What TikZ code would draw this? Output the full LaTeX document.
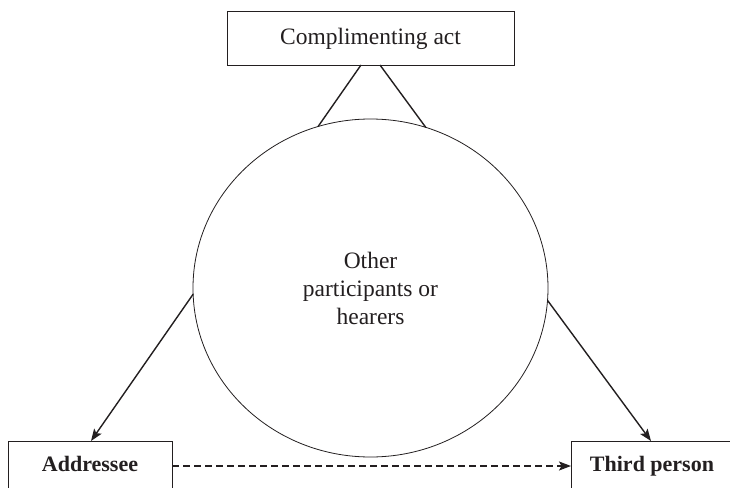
\documentclass[tikz,border=0pt]{standalone}
\usepackage{fontspec}
\setmainfont{Liberation Serif}
\usetikzlibrary{shapes.geometric,arrows.meta}
\definecolor{ink}{HTML}{231F20}
\tikzset{
  boxnode/.style={draw=ink, line width=1pt, inner sep=0pt, outer sep=0pt, text=ink},
  regtext/.style={font=\fontsize{23.5}{28}\selectfont},
  boldtext/.style={font=\fontsize{22}{26}\selectfont\bfseries},
  conn/.style={draw=ink, line width=1.4pt},
  tip/.style={-{Stealth[length=12pt,width=9pt,inset=2.5pt]}},
  dashconn/.style={draw=ink, line width=1.3pt, dash pattern=on 7pt off 4pt},
}
\begin{document}
\begin{tikzpicture}[x=1pt,y=-1pt]
\useasboundingbox (0,0) rectangle (730,487);
\clip (0,0) rectangle (730,487);
\fill[white] (0,0) rectangle (730,487);
% top box
\node[boxnode, regtext, minimum width=287pt, minimum height=53pt] (act) at (370.5,38.5) {Complimenting act};
% ellipse
\node[ellipse, draw=ink, line width=0.8pt, inner sep=0pt, outer sep=0pt,
      minimum width=355pt, minimum height=338pt, regtext, align=center, text=ink] (oth) at (370.5,288)
      {Other\\participants or\\hearers};
% bottom boxes
\node[boxnode, boldtext, anchor=north, minimum width=164pt, minimum height=50pt,
      text height=15pt, text depth=4pt] (addr) at (90,441) {Addressee};
\node[boxnode, boldtext, anchor=north, minimum width=170pt, minimum height=50pt,
      text height=15pt, text depth=4pt] (third) at (656,441) {\hspace*{-8pt}Third person};
% connectors
\draw[conn] ([xshift=-9.5pt]act.south) -- (oth.108.7);
\draw[conn] ([xshift=9.5pt]act.south) -- (oth.71.3);
\draw[conn, tip] (oth.182.9) -- ([xshift=1pt]addr.north);
\draw[conn, tip] (oth.356.8) -- ([xshift=-5pt]third.north);
\draw[dashconn, tip] (addr.east |- 0,466) -- (third.west |- 0,466);
\end{tikzpicture}
\end{document}
